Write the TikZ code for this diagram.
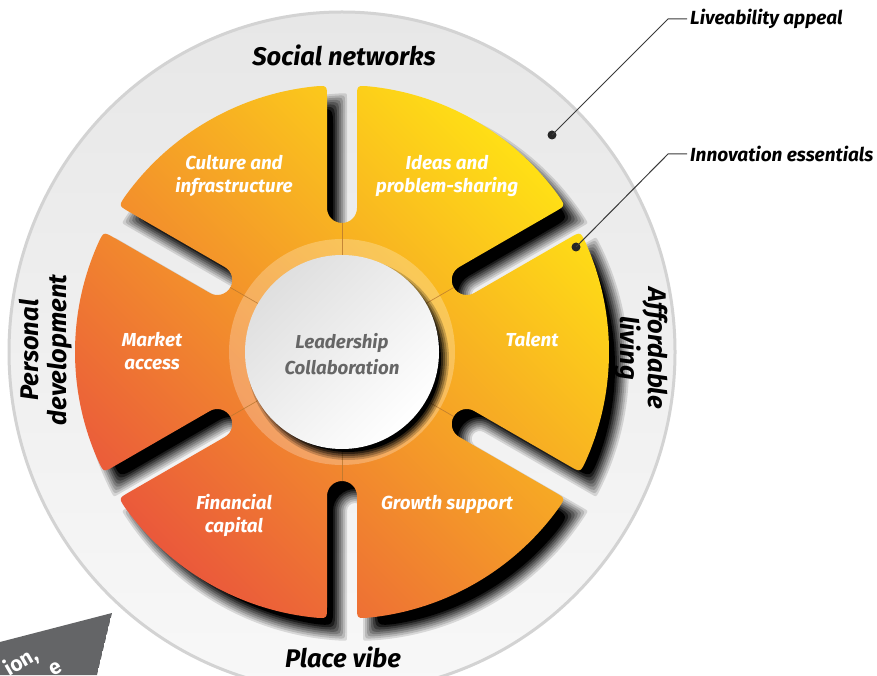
\documentclass[tikz,border=0pt]{standalone}
\usepackage{fontspec}
\setmainfont{Fira Sans}
\usetikzlibrary{calc}
\definecolor{petalA}{HTML}{EA583B}
\definecolor{petalB}{HTML}{F6A82B}
\definecolor{petalC}{HTML}{FFE015}
\definecolor{discA}{HTML}{E7E7E7}
\definecolor{discB}{HTML}{F8F8F8}
\definecolor{discEdge}{HTML}{D3D3D3}
\definecolor{hubA}{HTML}{DFDFDF}
\definecolor{centertext}{HTML}{666666}
\definecolor{seam}{HTML}{B8772E}
\definecolor{banner}{HTML}{646567}
\definecolor{calloutcol}{HTML}{3A3A3A}

% parameters of the petal outline: outer radius, slot half-width, corner radius
\newcommand\setpetal[3]{%
  \pgfmathsetmacro\pR{#1}%
  \pgfmathsetmacro\pw{#2}%
  \pgfmathsetmacro\pq{(#2)/(#1)}%
  \pgfmathsetmacro\pT{(#1)*sqrt(1-\pq*\pq)}%
  \pgfmathsetmacro\pTr{\pT-(#3)}%
  \pgfmathsetmacro\pd{asin(\pq)+(#3)/(#1)*57.29578}%
  \pgfmathsetmacro\pstart{-30+\pd}%
}
\newcommand\petalpath{(\pstart:\pR)
  \foreach \a [evaluate=\a as \sA using \a-60+\pd,
               evaluate=\a as \eA using \a-\pd,
               evaluate=\a as \fA using \a-90,
               evaluate=\a as \gA using \a-270,
               evaluate=\a as \hA using \a+\pd] in {30,90,150,210,270,330}{
    arc[start angle=\sA, end angle=\eA, radius=\pR]
    .. controls ({\pT*cos(\a)+\pw*sin(\a)},{\pT*sin(\a)-\pw*cos(\a)}) ..
       ({\pTr*cos(\a)+\pw*sin(\a)},{\pTr*sin(\a)-\pw*cos(\a)})
    -- ({144*cos(\a)+\pw*sin(\a)},{144*sin(\a)-\pw*cos(\a)})
    arc[start angle=\fA, end angle=\gA, radius=\pw]
    -- ({\pTr*cos(\a)-\pw*sin(\a)},{\pTr*sin(\a)+\pw*cos(\a)})
    .. controls ({\pT*cos(\a)-\pw*sin(\a)},{\pT*sin(\a)+\pw*cos(\a)}) .. (\hA:\pR)
  } -- cycle}

\tikzset{
  axislabel/.style={font=\fontsize{25.5}{28}\selectfont\bfseries\itshape, text=black, align=center, inner sep=0pt},
  petallabel/.style={font=\fontsize{18.8}{23}\selectfont\bfseries\itshape, text=white, align=center, inner sep=0pt},
  hublabel/.style={font=\fontsize{18.7}{26}\selectfont\bfseries\itshape, text=centertext, align=center, inner sep=0pt},
  calloutlabel/.style={font=\fontsize{19}{22}\selectfont\bfseries\itshape, anchor=west, inner sep=3pt},
  calloutdot/.style={circle, fill=black!85, inner sep=0pt, minimum size=9pt},
  calloutline/.style={draw=calloutcol, line width=1pt},
  bannertext/.style={font=\fontsize{21}{24}\selectfont\bfseries, text=white, rotate=30, inner sep=0pt},
}

\begin{document}
\begin{tikzpicture}[x=1pt,y=1pt]
\useasboundingbox (0,0) rectangle (877,675);
\clip (0,0) rectangle (877,675);

% outer disc
\shade[top color=discA, bottom color=discB] (342,323) ellipse[x radius=333, y radius=340];
\draw[discEdge, line width=3pt] (342,323) ellipse[x radius=333, y radius=340];

% soft petal shadow: stacked outlines grown / shrunk around the edge
\begin{scope}[shift={(355,308)}]
  \foreach \ee/\oo in {7/0.125, 5/0.142857, 3/0.166667, 1/0.2, -1/0.25, -3/0.333333, -5/0.5, -7/1}{
    \setpetal{267+\ee}{15-\ee}{12-\ee}
    \fill[black, opacity=\oo] \petalpath;
  }
\end{scope}

% petals
\begin{scope}[shift={(342,323)}]
  \setpetal{267}{15}{12}
  \begin{scope}
    \clip \petalpath;
    \shade[left color=petalA, middle color=petalB, right color=petalC, shading angle=135] (-270,-270) rectangle (270,270);
  \end{scope}
  \fill[white, opacity=0.25] (0,0) circle[radius=113];
  \foreach \a in {30,90,150,210,270,330}
    \draw[seam, opacity=0.8, line width=0.7pt] (\a:97) -- (\a:129);
\end{scope}

% hub shadow
\begin{scope}[shift={(348,316)}]
  \foreach \ee/\oo in {4/0.2, 2/0.25, 0/0.333333, -2/0.5, -4/1}
    \fill[black, opacity=\oo] (0,0) circle[radius=97+\ee];
\end{scope}
\shade[left color=hubA, right color=white, shading angle=45] (342,323) circle[radius=97];

% axis labels
\node[axislabel] (social) at (344,620) {Social networks};
\node[axislabel] (place) at (343,18) {Place vibe};
\node[axislabel, rotate=90] (personal) at (46,325) {Personal\\development};
\node[axislabel, rotate=-90] (afford) at (641,327) {Affordable\\living};

% petal labels
\node[petallabel] (culture) at (234,499.5) {Culture and\\infrastructure};
\node[petallabel] (ideas) at (447,499.5) {Ideas and\\problem-sharing};
\node[petallabel] (talent) at (532,335) {Talent};
\node[petallabel] (market) at (152,323.5) {Market\\access};
\node[petallabel] (financial) at (234,159.5) {Financial\\capital};
\node[petallabel] (growth) at (447,171) {Growth support};
\node[hublabel] (hub) at (342,321) {Leadership\\Collaboration};

% callouts
\node[calloutdot] (dot1) at (552,540) {};
\coordinate (bend1) at (668,656);
\node[calloutlabel] (live) at (687,656) {Liveability appeal};
\draw[calloutline] (dot1.center) -- (bend1) -- (live.west);
\node[calloutdot] (dot2) at (576,428) {};
\coordinate (bend2) at (668,521);
\node[calloutlabel] (innov) at (687,521) {Innovation essentials};
\draw[calloutline] (dot2.center) -- (bend2) -- (innov.west);

% banner in the lower left corner
\begin{scope}
  \clip (0,33) -- (112,62) -- (97,0) -- (0,0) -- cycle;
  \fill[banner] (0,33) -- (112,62) -- (97,0) -- (0,0) -- cycle;
  \node[bannertext, anchor=base east] (ban1) at (40,16) {ion,};
  \node[bannertext] (ban2) at (56,6) {e};
\end{scope}
\end{tikzpicture}
\end{document}
